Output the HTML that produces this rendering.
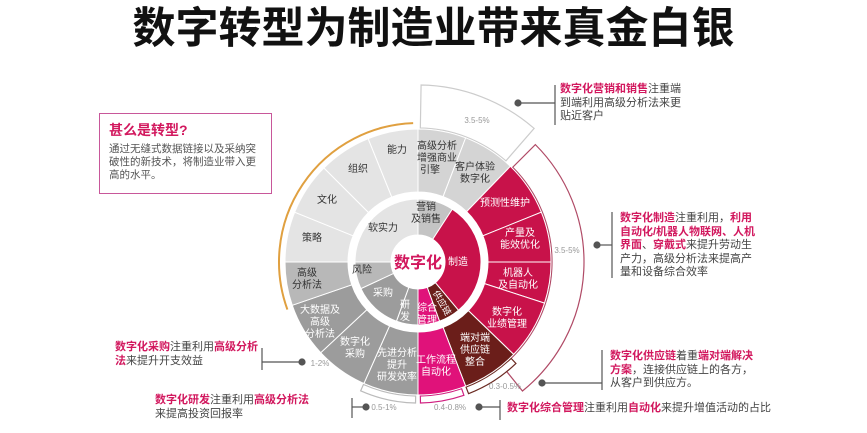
<!DOCTYPE html>
<html><head><meta charset="utf-8"><style>
html,body{margin:0;padding:0;background:#fff;width:867px;height:433px;overflow:hidden;}
body{position:relative;font-family:"Liberation Sans","Noto Sans CJK SC",sans-serif;}
.t{position:absolute;font-size:11px;line-height:13.5px;color:#444;white-space:nowrap;}
.p{color:#d2185e;font-weight:bold;}
</style></head><body>
<div style="position:absolute;left:0;top:4px;width:867px;text-align:center;font-size:43px;font-weight:bold;letter-spacing:0px;color:#111;line-height:50px;">数字转型为制造业带来真金白银</div>

<div style="position:absolute;left:99px;top:113px;width:171px;height:79px;border:1.5px solid #c8579a;"></div>
<div class="t" style="left:109px;top:122px;font-size:14px;line-height:16px;color:#d2185e;font-weight:bold;">甚么是转型?</div>
<div class="t" style="left:109px;top:143px;font-size:10.5px;line-height:13px;color:#555;">通过无缝式数据链接以及采纳突<br>破性的新技术，将制造业带入更<br>高的水平。</div>

<svg id="s" width="867" height="433" style="position:absolute;left:0;top:0;" xmlns="http://www.w3.org/2000/svg">
<g id="g"></g>
<g font-family="Liberation Sans, Noto Sans CJK SC, sans-serif" font-size="10" text-anchor="middle">
<g fill="#333">
<text x="437" y="149">高级分析</text><text x="437" y="161">增强商业</text><text x="430" y="173">引擎</text>
<text x="475" y="170">客户体验</text><text x="475" y="182">数字化</text>
<text x="397" y="153">能力</text><text x="358" y="172">组织</text><text x="327" y="203">文化</text><text x="312" y="241">策略</text>
<text x="307" y="276">高级</text><text x="307" y="288">分析法</text>
<text x="426" y="210">营销</text><text x="426" y="222">及销售</text>
<text x="383" y="231">软实力</text><text x="362" y="273">风险</text>
</g>
<g fill="#fff">
<text x="505" y="206">预测性维护</text>
<text x="520" y="236">产量及</text><text x="520" y="248">能效优化</text>
<text x="518" y="276">机器人</text><text x="518" y="288">及自动化</text>
<text x="507" y="315">数字化</text><text x="507" y="327">业绩管理</text>
<text x="475" y="341">端对端</text><text x="475" y="353">供应链</text><text x="475" y="365">整合</text>
<text x="436" y="363">工作流程</text><text x="436" y="375">自动化</text>
<text x="397" y="356">先进分析</text><text x="397" y="368">提升</text><text x="397" y="380">研发效率</text>
<text x="355" y="345">数字化</text><text x="355" y="357">采购</text>
<text x="320" y="313">大数据及</text><text x="320" y="325">高级</text><text x="320" y="337">分析法</text>
<text x="458" y="265">制造</text>
<text x="383" y="296">采购</text>
<text x="405" y="308">研</text><text x="405" y="320">发</text>
<text x="427" y="311">综合</text><text x="427" y="323">管理</text>
<text x="442" y="306" font-size="9" transform="rotate(60 442 303)">供应链</text>
</g>
<text x="418" y="268" font-size="16" font-weight="bold" fill="#d2185e">数字化</text>
<g fill="#999" font-size="8">
<text x="477" y="123">3.5-5%</text><text x="567" y="253">3.5-5%</text>
<text x="505" y="389">0.3-0.5%</text><text x="450" y="410">0.4-0.8%</text>
<text x="384" y="410">0.5-1%</text><text x="320" y="366">1-2%</text>
</g>
</g>
<g stroke="#555" stroke-width="1.2" fill="#555">
<line x1="518" y1="103" x2="555" y2="103"/><line x1="555" y1="85" x2="555" y2="125"/><circle cx="518" cy="103" r="3"/>
<line x1="597" y1="245" x2="612" y2="245"/><line x1="612" y1="212" x2="612" y2="278"/><circle cx="597" cy="245" r="3"/>
<line x1="542" y1="383" x2="602" y2="383"/><line x1="602" y1="350" x2="602" y2="390"/><circle cx="542" cy="383" r="3"/>
<line x1="479" y1="407" x2="500" y2="407"/><line x1="500" y1="400" x2="500" y2="420"/><circle cx="479" cy="407" r="3"/>
<line x1="352" y1="407" x2="366" y2="407"/><line x1="352" y1="398" x2="352" y2="418"/><circle cx="366" cy="407" r="3"/>
<line x1="262" y1="362" x2="302" y2="362"/><line x1="262" y1="348" x2="262" y2="370"/><circle cx="302" cy="362" r="3"/>
</g>
</svg>

<div class="t" style="left:560px;top:83px;">
<span class="p">数字化营销和销售</span>注重端<br>到端利用高级分析法来更<br>贴近客户</div>
<div class="t" style="left:620px;top:212px;"><span class="p">数字化制造</span>注重利用，<span class="p">利用</span><br><span class="p">自动化/机器人物联网、人机</span><br><span class="p">界面</span>、<span class="p">穿戴式</span>来提升劳动生<br>产力，高级分析法来提高产<br>量和设备综合效率</div>
<div class="t" style="left:610px;top:350px;"><span class="p">数字化供应链</span>着重<span class="p">端对端解决</span><br><span class="p">方案</span>，连接供应链上的各方，<br>从客户到供应方。</div>
<div class="t" style="left:507px;top:402px;"><span class="p">数字化综合管理</span>注重利用<span class="p">自动化</span>来提升增值活动的占比</div>
<div class="t" style="left:115px;top:341px;"><span class="p">数字化采购</span>注重利用<span class="p">高级分析</span><br><span class="p">法</span>来提升开支效益</div>
<div class="t" style="left:155px;top:394px;"><span class="p">数字化研发</span>注重利用<span class="p">高级分析法</span><br>来提高投资回报率</div>

<script>
var cx=418,cy=262,g=document.getElementById('g'),NS='http://www.w3.org/2000/svg';
function pt(r,a){a=(a-90)*Math.PI/180;return [cx+r*Math.cos(a),cy+r*Math.sin(a)];}
function seg(r1,r2,a1,a2,fill,stroke,sw){
 var l=(a2-a1)>180?1:0,p1=pt(r2,a1),p2=pt(r2,a2),p3=pt(r1,a2),p4=pt(r1,a1);
 var d='M'+p1+' A'+r2+','+r2+' 0 '+l+' 1 '+p2+' L'+p3+' A'+r1+','+r1+' 0 '+l+' 0 '+p4+' Z';
 var e=document.createElementNS(NS,'path');e.setAttribute('d',d);e.setAttribute('fill',fill||'none');
 e.setAttribute('stroke',stroke||'#fff');e.setAttribute('stroke-width',sw==null?1:sw);g.appendChild(e);}
function arc(r,a1,a2,col,w){var p1=pt(r,a1),p2=pt(r,a2),l=(a2-a1)>180?1:0;
 var e=document.createElementNS(NS,'path');e.setAttribute('d','M'+p1+' A'+r+','+r+' 0 '+l+' 1 '+p2);
 e.setAttribute('fill','none');e.setAttribute('stroke',col);e.setAttribute('stroke-width',w);g.appendChild(e);}
seg(134,177,1,41,'#fff','#ccc',1.2);
seg(134,166,45,141,'#fff','#b04a66',1.2);
seg(134,141,136,159,'#fff','#6b2a22',1.2);
seg(134,141,161,179,'#fff','#d02080',1.2);
seg(134,141,181,204,'#fff','#bbb',1.2);
arc(139,250,358,'#e0a040',2);
var L='#e4e4e4',M='#b8b8b8',D='#9c9c9c',R='#c8124a';
var o=[[0,21,'#d4d4d4'],[21,44,'#d4d4d4'],[44,68,R],[68,90,R],[90,108,R],[108,134,R],[134,159,'#6b1e1a'],[159,180,'#e0127a'],
[180,204,D],[204,227,D],[227,251,D],[251,270,M],[270,292,L],[292,315,L],[315,338,L],[338,360,L]];
o.forEach(function(s){seg(70,133,s[0],s[1],s[2],'#fff',1);});
var n=[[0,33,'#c4c4c4'],[33,140,R],[140,160,'#6b1e1a'],[160,180,'#e0127a'],[180,200,D],[200,245,D],[245,270,M],[270,360,L]];
n.forEach(function(s){seg(27,63,s[0],s[1],s[2],'#fff',1);});
var c=document.createElementNS(NS,'circle');c.setAttribute('cx',cx);c.setAttribute('cy',cy);c.setAttribute('r',27);c.setAttribute('fill','#fff');g.appendChild(c);
</script>
</body></html>
